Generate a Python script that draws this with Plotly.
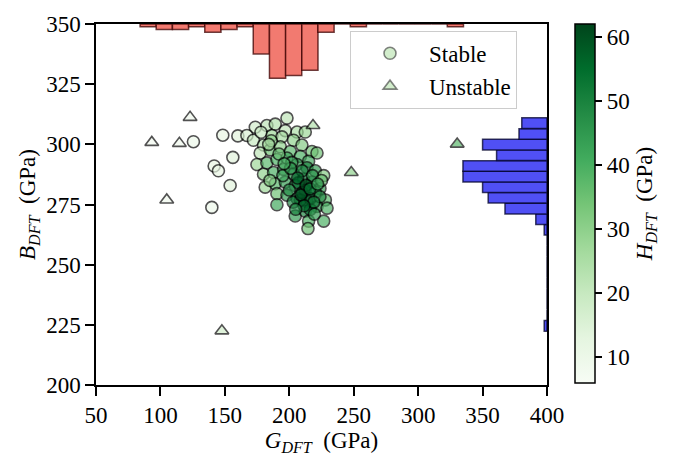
import plotly.graph_objects as go

# ---------------- data ----------------
stable_G = [125.6, 148.4, 160.1, 156.2, 141.7, 145.0, 154.1, 139.9,
            198.2, 173.6, 182.6, 189.1, 196.9, 206.0, 212.4, 167.1, 172.2, 180.0,
            186.5, 194.3, 203.3, 209.8, 217.6, 177.4, 185.2, 193.0, 200.8, 208.6,
            215.0, 221.5, 174.9, 182.6, 190.4, 198.2, 206.0, 213.7, 220.2, 226.7,
            180.0, 187.8, 195.6, 203.3, 211.1, 217.6, 223.8, 181.3, 189.1, 196.9,
            204.6, 212.4, 220.2, 228.0, 190.4, 198.2, 206.0, 213.7, 221.5, 229.3,
            190.4, 204.6, 212.4, 216.3, 215.0, 226.7, 208.6, 216.3, 223.8,
            214.5, 186.0, 192.0, 202.0, 210.0, 207.0, 200.0, 218.0, 195.0, 185.0,
            210.0, 219.0, 203.0, 225.0, 178.0, 184.0,
            206.5, 213.0, 209.0, 216.0, 201.0, 222.0, 196.0, 211.5, 219.5, 205.0]
stable_B = [301.1, 303.8, 303.5, 294.6, 291.0, 289.0, 282.9, 273.8,
            310.9, 307.1, 307.8, 308.4, 305.7, 305.1, 305.1, 303.7, 301.7, 299.7,
            303.7, 303.1, 301.7, 299.7, 297.0, 296.4, 297.7, 299.0, 297.0, 295.0,
            293.0, 296.4, 291.6, 292.3, 293.7, 294.3, 291.6, 290.3, 289.0, 287.0,
            287.6, 288.3, 289.6, 287.6, 285.6, 284.3, 281.6, 282.2, 283.6, 284.3,
            282.9, 280.9, 280.2, 276.9, 279.5, 278.9, 277.5, 276.2, 274.2, 273.5,
            274.9, 270.2, 272.2, 272.9, 268.1, 268.1, 276.9, 277.5, 278.2,
            265.0, 301.5, 296.0, 292.5, 289.0, 284.0, 281.0, 287.0, 287.0, 285.0,
            280.0, 276.0, 276.0, 285.0, 305.0, 300.0,
            286.0, 283.0, 279.0, 281.5, 290.0, 283.5, 292.0, 274.5, 271.0, 273.0]
stable_H = [10, 12, 14, 14, 12, 12, 14, 10,
            22, 18, 22, 24, 22, 25, 28, 16, 20, 24,
            28, 26, 30, 32, 35, 22, 35, 30, 38, 40,
            42, 35, 28, 38, 40, 42, 45, 50, 45, 32,
            30, 40, 45, 48, 55, 52, 45, 28, 38, 45,
            50, 58, 50, 38, 35, 45, 52, 55, 48, 40,
            42, 45, 50, 55, 40, 40, 58, 60, 48,
            35, 30, 36, 44, 50, 56, 48, 46, 42, 32,
            60, 52, 50, 36, 20, 26,
            57, 61, 59, 54, 46, 44, 40, 56, 45, 50]

unstable_G = [123.0, 93.3, 114.7, 104.9, 147.7, 218.4, 248.1, 330.3]
unstable_B = [311.2, 300.8, 300.4, 276.9, 222.5, 307.8, 288.3, 300.1]
unstable_H = [9, 8, 9, 9, 18, 24, 30, 38]

# marginal histograms (20 bins each)
top_bin_G = [90.5, 103.0, 115.6, 128.1, 140.7, 153.2, 165.8, 178.3, 190.9, 203.4,
             216.0, 228.5, 241.1, 253.6, 266.2, 278.7, 291.3, 303.8, 316.4, 328.9]
top_counts = [1, 2, 2, 1, 3, 2, 1, 11, 20, 19, 17, 3, 0, 1, 0, 0, 0, 0, 0, 1]
right_bin_B = [224.6, 229.0, 233.5, 237.9, 242.3, 246.8, 251.2, 255.6, 260.1, 264.5,
               268.9, 273.3, 277.8, 282.2, 286.6, 291.0, 295.5, 299.9, 304.3, 308.8]
right_counts = [1, 0, 0, 0, 0, 0, 0, 0, 0, 1, 4, 15, 21, 23, 30, 30, 18, 23, 10, 9]

x_ticks = [50, 100, 150, 200, 250, 300, 350, 400]
y_ticks = [200, 225, 250, 275, 300, 325, 350]
cb_ticks = [10, 20, 30, 40, 50, 60]

FONT = "Liberation Serif"
FS = 23
CMIN, CMAX = 6, 62

fig = go.Figure()

marker_common = dict(size=12, cmin=CMIN, cmax=CMAX, colorscale="Greens",
                     opacity=0.68, line=dict(color="black", width=1.6))

fig.add_trace(go.Scatter(
    x=stable_G, y=stable_B, mode="markers", showlegend=False,
    marker=dict(symbol="circle", color=stable_H,
                colorbar=dict(
                    x=(575 - 96) / 451, xanchor="left", xpad=0,
                    y=1, yanchor="top", ypad=0, len=370 / 372, lenmode="fraction",
                    thickness=20, outlinewidth=1.5, outlinecolor="black",
                    ticks="outside", ticklen=7, tickwidth=1.5, tickcolor="black",
                    tickvals=cb_ticks, tickfont=dict(family=FONT, size=FS, color="black"),
                    title=dict(text="<i>H</i><sub><i>DFT</i></sub>  (GPa)", side="right",
                               font=dict(family=FONT, size=FS, color="black")),
                ),
                **marker_common),
))
fig.add_trace(go.Scatter(
    x=unstable_G, y=unstable_B, mode="markers", showlegend=False,
    marker=dict(symbol="triangle-up", color=unstable_H, **marker_common),
))

# legend proxies
for name, sym in [("Stable", "circle"), ("Unstable", "triangle-up")]:
    fig.add_trace(go.Scatter(
        x=[None], y=[None], mode="markers", name=name,
        marker=dict(symbol=sym, size=12, color="rgb(199,233,192)", opacity=0.8,
                    line=dict(color="rgba(0,0,0,0.6)", width=1.6)),
    ))

# top histogram (hanging from top)
fig.add_trace(go.Bar(
    x=top_bin_G, y=top_counts, width=12.55, xaxis="x", yaxis="y2",
    marker=dict(color="rgb(242,122,112)", line=dict(color="rgba(60,0,0,0.75)", width=1.5)),
    showlegend=False,
))
# right histogram (from right edge)
fig.add_trace(go.Bar(
    y=right_bin_B, x=right_counts, width=4.43, orientation="h", xaxis="x2", yaxis="y",
    marker=dict(color="rgb(80,80,245)", line=dict(color="rgba(0,0,40,0.75)", width=1.5)),
    showlegend=False,
))

axis_common = dict(showline=True, linecolor="black", linewidth=1.5, mirror=True,
                   ticks="outside", ticklen=9, tickwidth=1.5, tickcolor="black",
                   showgrid=False, zeroline=False,
                   tickfont=dict(family=FONT, size=FS, color="black"))

fig.update_layout(
    width=679, height=458,
    margin=dict(l=96, r=132, t=17, b=69),
    paper_bgcolor="white", plot_bgcolor="white",
    font=dict(family=FONT, size=FS, color="black"),
    xaxis=dict(range=[50, 400], tickvals=x_ticks,
               title=dict(text="<i>G</i><sub><i>DFT</i></sub>  (GPa)", standoff=2,
                          font=dict(family=FONT, size=FS)),
               **axis_common),
    yaxis=dict(range=[200, 350], tickvals=y_ticks,
               title=dict(text="<i>B</i><sub><i>DFT</i></sub>  (GPa)", standoff=4,
                          font=dict(family=FONT, size=FS)),
               **axis_common),
    xaxis2=dict(overlaying="x", range=[161, 0], visible=False),
    yaxis2=dict(overlaying="y", range=[132.9, 0], visible=False),
    legend=dict(x=(350 - 96) / 451, y=(389 - 24) / 372, xanchor="left", yanchor="top",
                bgcolor="white", bordercolor="#cccccc", borderwidth=1,
                itemwidth=68, font=dict(family=FONT, size=FS, color="black")),
    showlegend=True,
)

fig.write_html("out.html")
